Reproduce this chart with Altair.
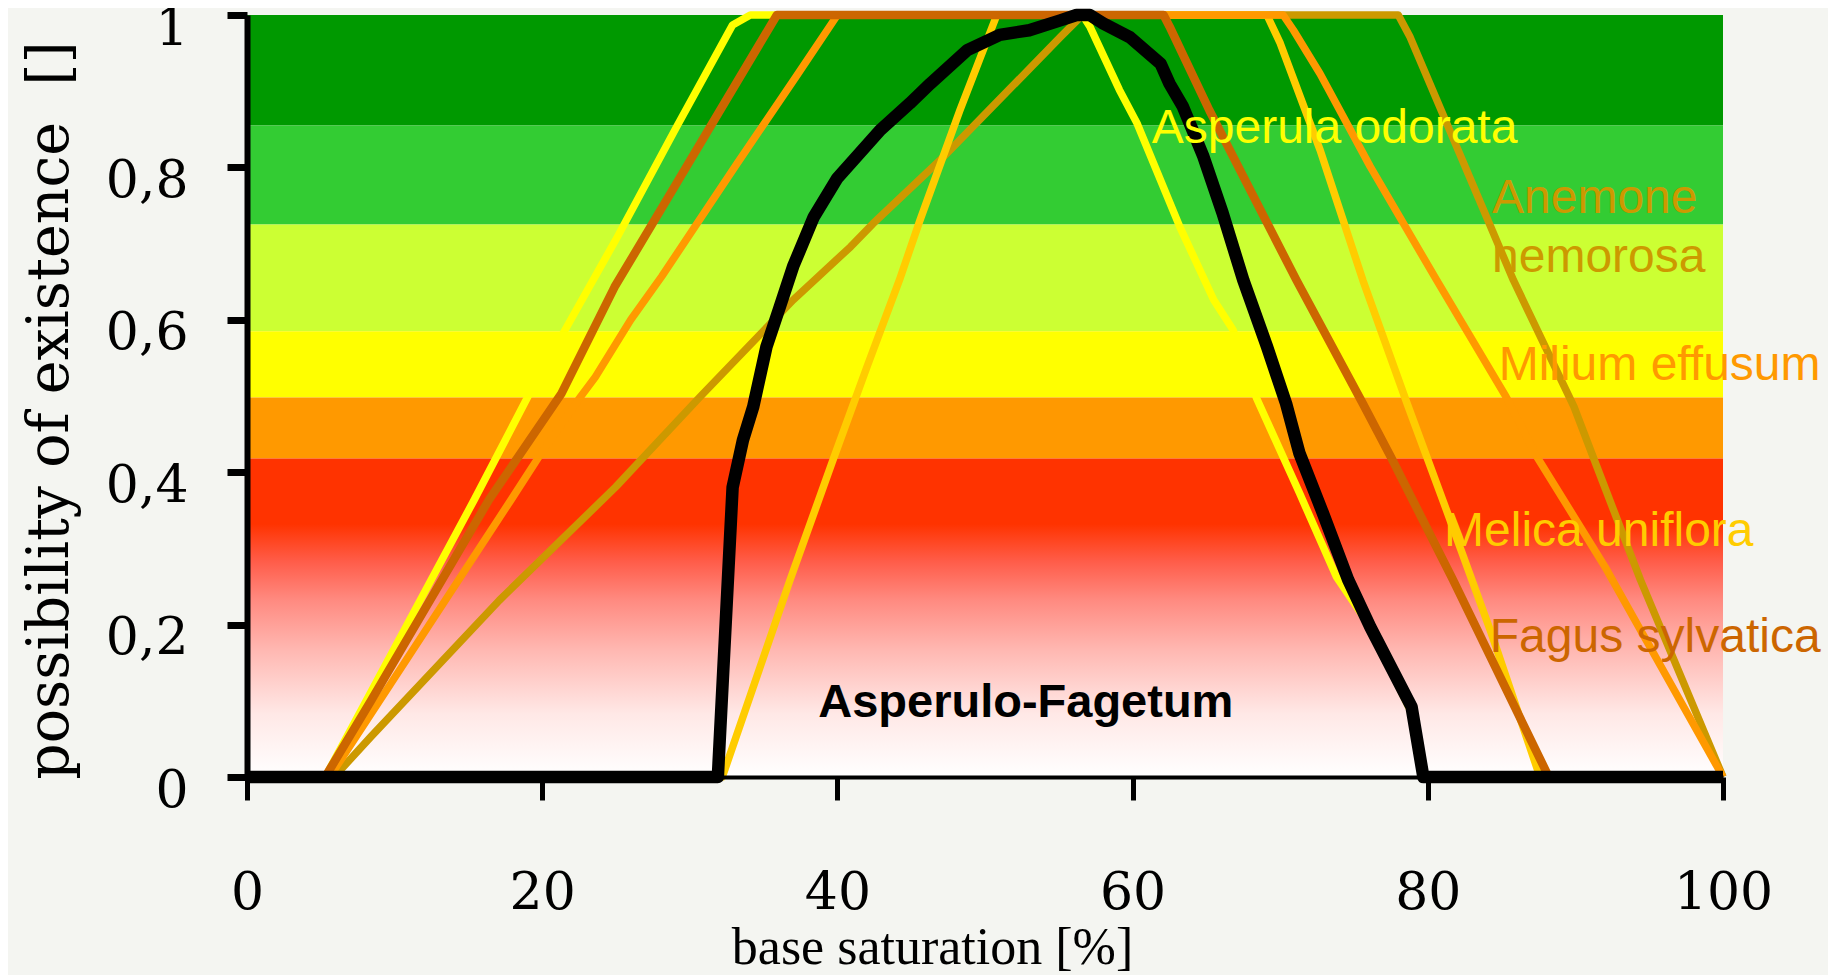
import altair as alt
import pandas as pd

# ---------------- data ----------------
# Anemone nemorosa
x_anemone = [0, 5.9, 8.4, 17.1, 25.0, 30.7, 37.0, 40.9, 42.4, 47.2, 55.1, 56.6, 78.0, 78.8, 85.8, 89.9, 91.2, 94.4, 100]
y_anemone = [0, 0, 0.053, 0.232, 0.381, 0.499, 0.626, 0.696, 0.726, 0.814, 0.971, 1.0, 1.0, 0.971, 0.652, 0.486, 0.42, 0.259, 0]

# Melica uniflora
x_melica = [0, 32.2, 36.8, 39.7, 42.0, 44.2, 45.6, 48.3, 50.8, 69.1, 70.0, 72.7, 75.6, 78.6, 81.1, 84.3, 87.6, 100]
y_melica = [0, 0, 0.259, 0.416, 0.538, 0.652, 0.731, 0.875, 1.0, 1.0, 0.963, 0.823, 0.652, 0.49, 0.359, 0.189, 0, 0]

# Milium effusum
x_milium = [0, 5.6, 17.9, 19.7, 22.6, 23.6, 26.0, 28.1, 33.2, 37.2, 40.0, 70.2, 70.9, 72.7, 76.1, 80.6, 85.3, 87.4, 92.0, 100]
y_milium = [0, 0, 0.364, 0.418, 0.499, 0.525, 0.600, 0.657, 0.805, 0.919, 1.0, 1.0, 0.98, 0.923, 0.801, 0.652, 0.499, 0.42, 0.276, 0]

# Asperula odorata
x_asperula = [0, 5.3, 15.4, 19.0, 21.5, 25.1, 29.1, 32.9, 34.1, 56.6, 57.1, 59.1, 60.3, 63.2, 65.5, 66.8, 68.4, 71.3, 73.8, 76.1, 78.9, 79.8, 100]
y_asperula = [0, 0, 0.364, 0.498, 0.585, 0.709, 0.853, 0.987, 1.0, 1.0, 0.985, 0.902, 0.858, 0.722, 0.626, 0.587, 0.497, 0.373, 0.263, 0.197, 0.084, 0, 0]

# Fagus sylvatica
x_fagus = [0, 5.3, 8.4, 16.4, 21.3, 24.9, 29.1, 35.9, 62.1, 62.5, 65.2, 71.1, 75.6, 77.5, 81.7, 88.2, 100]
y_fagus = [0, 0, 0.1, 0.364, 0.503, 0.643, 0.779, 1.0, 1.0, 0.985, 0.875, 0.652, 0.49, 0.42, 0.259, 0, 0]

# Asperulo-Fagetum (community)
x_community = [0, 31.9, 32.9, 33.6, 34.3, 35.2, 36.1, 37.0, 38.4, 40.0, 42.9, 44.9, 46.3, 48.8, 51.0, 53.0,
               55.1, 56.2, 57.1, 58.0, 59.8, 61.9, 62.5, 63.4, 64.8, 66.1, 67.5, 69.1, 70.4, 71.3, 72.9,
               74.6, 76.1, 78.9, 79.7, 100]
y_community = [0, 0, 0.38, 0.442, 0.486, 0.565, 0.617, 0.670, 0.735, 0.786, 0.849, 0.884, 0.910, 0.954, 0.974, 0.980,
               0.993, 1.0, 1.0, 0.989, 0.971, 0.936, 0.910, 0.880, 0.814, 0.740, 0.652, 0.565, 0.490, 0.425, 0.346,
               0.259, 0.197, 0.092, 0, 0]

# background class bands
band_lower = [0.855, 0.725, 0.585, 0.498, 0.418, 0.328]
band_upper = [1.0, 0.855, 0.725, 0.585, 0.498, 0.418]
band_colors = ["#009900", "#33cc33", "#ccff33", "#ffff00", "#ff9900", "#ff3300"]
fade_lower = [0.0]
fade_upper = [0.332]

# annotations
label_text = ["Asperula odorata", "Anemone", "nemorosa", "Milium effusum", "Melica uniflora", "Fagus sylvatica"]
label_x = [61.3, 84.35, 84.35, 84.8, 81.1, 84.2]
label_y = [0.832, 0.740, 0.663, 0.521, 0.303, 0.164]
label_color = ["#ffff00", "#cc9900", "#cc9900", "#ff9900", "#ffcc00", "#cc6600"]
main_label = ["Asperulo-Fagetum"]
main_label_x = [38.7]
main_label_y = [0.079]

x_ticks = [0, 20, 40, 60, 80, 100]
y_ticks = [0, 0.2, 0.4, 0.6, 0.8, 1]

# ---------------- chart ----------------
x_scale = alt.Scale(domain=[0, 100], nice=False, zero=False)
y_scale = alt.Scale(domain=[0, 1], nice=False, zero=False)

x_axis = alt.Axis(
    values=x_ticks, title="base saturation [%]", grid=False,
    domainColor="black", domainWidth=4, tickColor="black", tickWidth=5, tickSize=23,
    labelFont="DejaVu Serif", labelFontSize=52, labelColor="black", labelPadding=67,
    labelFlush=False, labelOverlap=False,
    titleFont="Liberation Serif", titleFontSize=52, titleFontWeight="normal", titleColor="black",
    titleX=685, titleY=186, titleBaseline="alphabetic", titleAlign="center", zindex=1,
)
y_axis = alt.Axis(
    values=y_ticks, labelExpr="replace(format(datum.value, '.1~f'), '.', ',')",
    title="possibility of existence \u00a0[]", grid=False,
    domainColor="black", domainWidth=6, tickColor="black", tickWidth=7, tickSize=20,
    labelFont="DejaVu Serif", labelFontSize=52, labelColor="black", labelPadding=39,
    labelOffset=13, labelFlush=False, labelOverlap=False,
    titleFont="DejaVu Serif", titleFontSize=57, titleFontWeight="normal", titleColor="black",
    titleX=-180, titleY=395, titleAngle=270, titleBaseline="alphabetic", titleAlign="center", zindex=1,
)


def X(field):
    return alt.X(field, type="quantitative", scale=x_scale, axis=x_axis)


def Y(field):
    return alt.Y(field, type="quantitative", scale=y_scale, axis=y_axis)


bands_df = pd.DataFrame({"lo": band_lower, "hi": band_upper, "col": band_colors,
                         "x0": [x_ticks[0]] * len(band_lower), "x1": [x_ticks[-1]] * len(band_lower)})
bands = alt.Chart(bands_df).mark_rect().encode(
    x=X("x0"), x2="x1", y=Y("lo"), y2="hi", color=alt.Color("col:N", scale=None)
)

fade_df = pd.DataFrame({"lo": fade_lower, "hi": fade_upper, "x0": [x_ticks[0]], "x1": [x_ticks[-1]]})
fade = alt.Chart(fade_df).mark_rect(
    color=alt.LinearGradient(
        gradient="linear",
        stops=[
            alt.GradientStop(offset=0.0, color="#ffffff"),
            alt.GradientStop(offset=0.25, color="#ffe8e6"),
            alt.GradientStop(offset=0.5, color="#ffb8b2"),
            alt.GradientStop(offset=0.7, color="#ff8a80"),
            alt.GradientStop(offset=0.85, color="#ff5d4a"),
            alt.GradientStop(offset=1.0, color="#ff3300"),
        ],
        x1=0, x2=0, y1=1, y2=0,
    )
).encode(x=X("x0"), x2="x1", y=Y("lo"), y2="hi")

series = [
    (x_anemone, y_anemone),
    (x_melica, y_melica),
    (x_milium, y_milium),
    (x_asperula, y_asperula),
    (x_fagus, y_fagus),
    (x_community, y_community),
]
line_styles = [("#cc9900", 7.5), ("#ffcc00", 7.5), ("#ff9900", 7.5), ("#ffff00", 7.5), ("#cc6600", 8.5), ("#000000", 12.5)]

lines = []
for (xs, ys), (col, w) in zip(series, line_styles):
    df = pd.DataFrame({"x": xs, "y": ys})
    lines.append(
        alt.Chart(df).mark_line(color=col, strokeWidth=w, strokeJoin="round", strokeCap="butt")
        .encode(x=X("x"), y=Y("y"))
    )

labels_df = pd.DataFrame({"x": label_x, "y": label_y, "t": label_text, "col": label_color})
labels = alt.Chart(labels_df).mark_text(
    align="left", baseline="alphabetic", font="Liberation Sans", fontSize=48
).encode(x=X("x"), y=Y("y"), text="t:N", color=alt.Color("col:N", scale=None))

main_df = pd.DataFrame({"x": main_label_x, "y": main_label_y, "t": main_label})
main_text = alt.Chart(main_df).mark_text(
    align="left", baseline="alphabetic", font="Liberation Sans", fontSize=47, fontWeight="bold", color="black"
).encode(x=X("x"), y=Y("y"), text="t:N")

chart = alt.layer(bands, fade, *lines, labels, main_text).properties(
    width=1476, height=762,
    autosize=alt.AutoSizeParams(type="none"),
    padding={"left": 239, "top": 7, "right": 105, "bottom": 200},
    background="#f4f5f1",
).configure_view(strokeWidth=0)

chart.save("out.html", embed_options={"renderer": "svg", "actions": False})
